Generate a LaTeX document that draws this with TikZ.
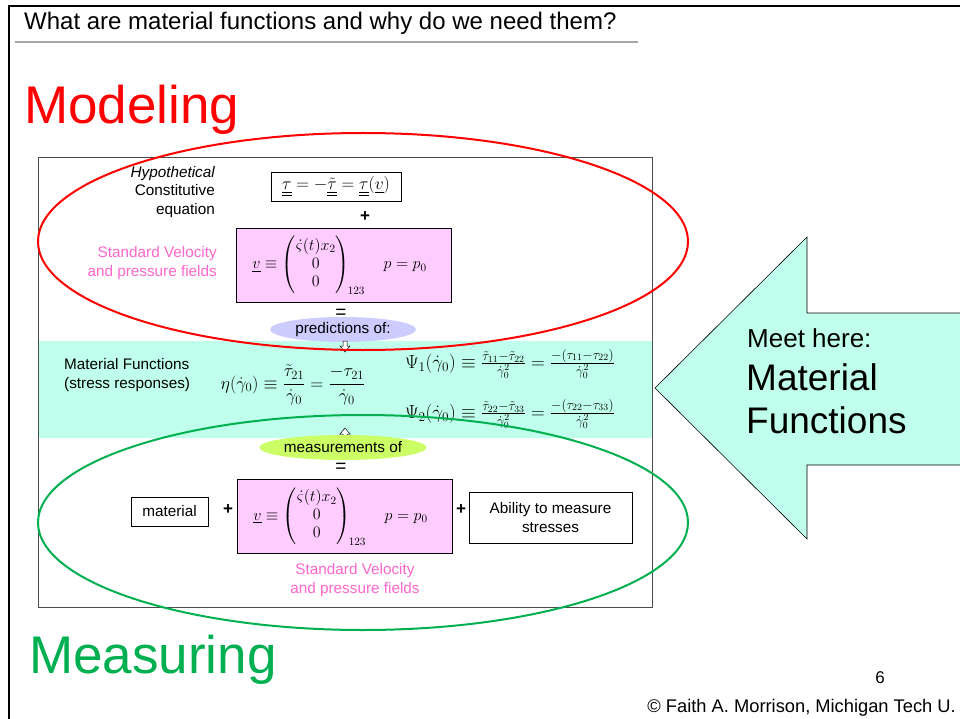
\RequirePackage{fix-cm}
\documentclass[tikz,border=0pt]{standalone}
\usepackage{amsmath,amssymb}
\usepackage{fontspec}
\setmainfont{Liberation Sans}
\usetikzlibrary{shapes.geometric}
\definecolor{pinkfill}{RGB}{255,204,255}
\definecolor{pinktext}{RGB}{255,102,204}
\definecolor{cyanband}{RGB}{192,255,236}
\definecolor{lavender}{RGB}{204,204,255}
\definecolor{limefill}{RGB}{204,255,102}
\definecolor{modred}{RGB}{255,0,0}
\definecolor{meagreen}{RGB}{0,176,80}
\newcommand{\dul}[1]{\underline{\underline{#1}}}
\newcommand{\fs}[2]{\fontsize{#1}{#2}\selectfont}
\begin{document}
\begin{tikzpicture}[x=1pt,y=-1pt,
  txt/.style={inner sep=0pt,font=\fs{15.3}{18.7}},
  pinkbox/.style={draw=black,fill=pinkfill,line width=0.8pt,minimum width=215pt,minimum height=74pt,inner sep=0pt},
  whitebox/.style={draw=black,fill=white,line width=0.8pt,inner sep=0pt,font=\fs{15.3}{18.7},align=center},
  pill/.style={ellipse,minimum width=146pt,minimum height=25pt,inner sep=0pt,font=\fs{15.3}{18}},
  plus/.style={inner sep=0pt,font=\fs{17}{18}\bfseries},
  hollow/.style={draw=black,fill=white,line width=0.5pt}]
\useasboundingbox (0,0) rectangle (960,719);
% slide frame
\draw[line width=2.5pt,black] (8,6) coordinate (tl) -- (962,6) coordinate (tr);
\draw[line width=2pt,black] (9,5) coordinate (lt) -- (9,721) coordinate (lb);
\node[anchor=base west,inner sep=0pt,font=\fs{24}{28}] (title) at (24,30) {What are material functions and why do we need them?};
\draw[line width=1.5pt,black!35] (15,42) coordinate (ul1) -- (638,42) coordinate (ul2);
\node[anchor=base west,inner sep=0pt,text=modred,font=\fs{53}{60}] (modeling) at (24,124) {Modeling};
\node[anchor=base west,inner sep=0pt,text=meagreen,font=\fs{53}{60}] (measuring) at (29,673) {Measuring};
% band and frame
\fill[cyanband] (38,341) rectangle (652,438);
\draw[black!70,line width=0.9pt] (38,157) rectangle (652,607);
% top part
\node[txt,anchor=east,align=right] (hyp) at (215,192) {\itshape Hypothetical\\Constitutive\\equation};
\node[whitebox,minimum width=130pt,minimum height=29pt,font=\fs{17.5}{20}] (cons) at (336,186.5) {$\dul{\tau}=-\dul{\tilde{\tau}}=\dul{\tau}(\underline{v})$};
\node[plus] (plus1) at (365,217) {+};
\node[pinkbox,font=\fs{16}{18}] (vtop) at (343.5,265) {\hspace*{-8pt}$\underline{v}\equiv\begin{pmatrix}\dot{\varsigma}(t)x_2\\0\\0\end{pmatrix}_{\!123}\quad p=p_0$};
\node[txt,anchor=east,align=right,text=pinktext] (svtop) at (217,263) {Standard Velocity\\and pressure fields};
\node[inner sep=0pt,font=\fs{19}{20}] (eq1) at (341,314) {=};
\node[pill,fill=lavender] (pred) at (343,329.5) {predictions of:};
% down hollow arrow
\draw[hollow] (343,341) -- (347,341) -- (347,346) -- (350,346) -- (345,352) -- (340,346) -- (343,346) -- cycle;
% band content
\node[txt,anchor=west,align=left] (mf) at (64,375) {Material Functions\\(stress responses)};
\node[inner sep=0pt,font=\fs{18}{20}] (eta) at (293,385) {$\displaystyle\eta(\dot{\gamma}_0)\equiv\frac{\tilde{\tau}_{21}}{\dot{\gamma}_0}=\frac{-\tau_{21}}{\dot{\gamma}_0}$};
\node[inner sep=0pt,font=\fs{19}{20}] (psi1) at (510,364) {$\Psi_1(\dot{\gamma}_0)\equiv\frac{\tilde{\tau}_{11}-\tilde{\tau}_{22}}{\dot{\gamma}_0^2}=\frac{-(\tau_{11}-\tau_{22})}{\dot{\gamma}_0^2}$};
\node[inner sep=0pt,font=\fs{19}{20}] (psi2) at (510,414) {$\Psi_2(\dot{\gamma}_0)\equiv\frac{\tilde{\tau}_{22}-\tilde{\tau}_{33}}{\dot{\gamma}_0^2}=\frac{-(\tau_{22}-\tau_{33})}{\dot{\gamma}_0^2}$};
% up hollow arrow
\draw[hollow] (343,439) -- (347,439) -- (347,434) -- (350,434) -- (345,428) -- (340,434) -- (343,434) -- cycle;
\node[pill,fill=limefill] (meas) at (343,447.5) {measurements of};
\node[inner sep=0pt,font=\fs{19}{20}] (eq2) at (341,468) {=};
% bottom part
\node[whitebox,minimum width=77pt,minimum height=29pt] (mat) at (169.5,511.5) {material};
\node[plus] (plus2) at (228,510) {+};
\node[pinkbox,font=\fs{16}{18}] (vbot) at (344.5,516.5) {\hspace*{-8pt}$\underline{v}\equiv\begin{pmatrix}\dot{\varsigma}(t)x_2\\0\\0\end{pmatrix}_{\!123}\quad p=p_0$};
\node[plus] (plus3) at (461,510) {+};
\node[whitebox,minimum width=163pt,minimum height=51pt] (abil) at (550.5,517.5) {Ability to measure\\stresses};
\node[txt,align=center,text=pinktext] (svbot) at (355,580) {Standard Velocity\\and pressure fields};
% ellipses
\draw[modred,line width=2pt] (363,241.5) ellipse [x radius=325, y radius=108.5];
\draw[meagreen,line width=2pt] (363,522.5) ellipse [x radius=325, y radius=107.5];
% big arrow
\draw[fill=cyanband,draw=black,line width=0.6pt] (655,388) coordinate (tip) -- (807,237) -- (807,313) -- (975,313) -- (975,465) -- (807,465) -- (807,539) -- cycle;
\node[anchor=base west,inner sep=0pt,font=\fs{26}{30}] (meet) at (747,347) {Meet here:};
\node[anchor=base west,inner sep=0pt,font=\fs{37}{42}] (mat1) at (746,390) {Material};
\node[anchor=base west,inner sep=0pt,font=\fs{37}{42}] (mat2) at (746,433) {Functions};
% footer
\node[anchor=base,inner sep=0pt,font=\fs{17}{18}] (pg) at (880,683) {6};
\node[anchor=base east,inner sep=0pt,font=\fs{18.3}{20}] (copy) at (956,712) {© Faith A. Morrison, Michigan Tech U.};
\end{tikzpicture}
\end{document}
